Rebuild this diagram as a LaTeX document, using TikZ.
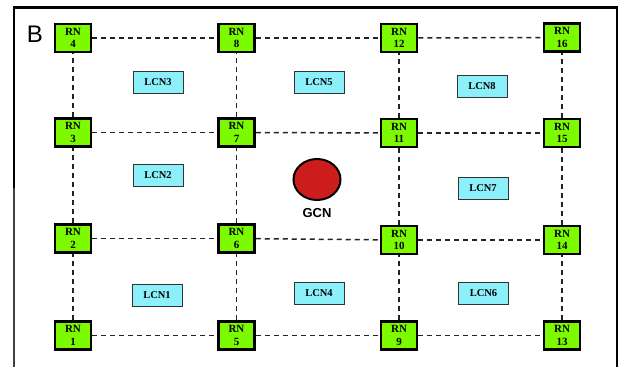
\documentclass[tikz,border=0pt]{standalone}
\usepackage{fontspec}
\setmainfont{Liberation Serif}
\newfontfamily\labsans{Liberation Sans}
\usetikzlibrary{shapes.geometric}
\definecolor{rngreen}{RGB}{124,250,0}
\definecolor{lcncyan}{RGB}{140,240,250}
\definecolor{gcnred}{RGB}{205,28,28}
\definecolor{dashgray}{RGB}{35,35,35}
\tikzset{
  rnbox/.style={draw=black, line width=2.5pt, fill=rngreen, minimum width=36pt, minimum height=28pt,
    inner sep=0pt, align=center, font=\fontsize{11}{12.5}\selectfont\bfseries},
  lcnbox/.style={draw=black!80, line width=1pt, fill=lcncyan, minimum width=50pt, minimum height=22pt,
    inner sep=0pt, font=\fontsize{10.5}{12}\selectfont\bfseries},
  gcnnode/.style={ellipse, draw=black, line width=2pt, fill=gcnred, minimum width=47pt, minimum height=41pt, inner sep=0pt},
  link/.style={dashgray, line width=1.5pt, dash pattern=on 5pt off 4pt},
  frame/.style={black, line width=2.5pt}
}
\begin{document}
\begin{tikzpicture}[x=1pt,y=-1pt]
\useasboundingbox (0,0) rectangle (622,367);
% frame
\coordinate (fa) at (14,367);
\coordinate (fb) at (14,188);
\coordinate (fc) at (14,7.5);
\coordinate (fd) at (617,7.5);
\coordinate (fe) at (617,367);
\draw[frame, line cap=rect] (fb) -- (fc) -- (fd) -- (fe);
\draw[black!75, line width=2.2pt] (fa) -- (fb);
\node[font=\labsans\fontsize{24}{24}\selectfont] (B) at (35,34) {B};
% RN nodes
\node[rnbox] (rn1) at (73,335.5) {RN\\1};
\node[rnbox] (rn2) at (73,238.5) {RN\\2};
\node[rnbox] (rn3) at (73,132.5) {RN\\3};
\node[rnbox] (rn4) at (73,38) {RN\\4};
\node[rnbox] (rn5) at (236.5,335.5) {RN\\5};
\node[rnbox] (rn6) at (236.5,238.5) {RN\\6};
\node[rnbox] (rn7) at (236.5,132.5) {RN\\7};
\node[rnbox] (rn8) at (236.5,38) {RN\\8};
\node[rnbox] (rn9) at (399,335.5) {RN\\9};
\node[rnbox] (rn10) at (399,240) {RN\\10};
\node[rnbox] (rn11) at (399,133) {RN\\11};
\node[rnbox] (rn12) at (399,38) {RN\\12};
\node[rnbox] (rn13) at (562,335.5) {RN\\13};
\node[rnbox] (rn14) at (562,240) {RN\\14};
\node[rnbox] (rn15) at (562,133) {RN\\15};
\node[rnbox] (rn16) at (562,37.5) {RN\\16};
% links
\foreach \a/\b in {rn1/rn2,rn2/rn3,rn3/rn4,rn5/rn6,rn6/rn7,rn7/rn8,rn9/rn10,rn10/rn11,rn11/rn12,rn13/rn14,rn14/rn15,rn15/rn16,
  rn1/rn5,rn5/rn9,rn9/rn13,rn2/rn6,rn6/rn10,rn10/rn14,rn3/rn7,rn7/rn11,rn11/rn15,rn4/rn8,rn8/rn12,rn12/rn16}
  \draw[link] (\a) -- (\b);
% LCN nodes
\node[lcnbox] (lcn1) at (157,295.5) {LCN1};
\node[lcnbox] (lcn2) at (158,175.5) {LCN2};
\node[lcnbox] (lcn3) at (158,82) {LCN3};
\node[lcnbox] (lcn4) at (319,293.5) {LCN4};
\node[lcnbox] (lcn5) at (319,82.5) {LCN5};
\node[lcnbox] (lcn6) at (483.5,293) {LCN6};
\node[lcnbox] (lcn7) at (483,188.5) {LCN7};
\node[lcnbox] (lcn8) at (482,86) {LCN8};
% GCN
\node[gcnnode] (gcn) at (317,179.5) {};
\node[font=\labsans\fontsize{13}{13}\selectfont\bfseries] (gcnlabel) at (317,213) {GCN};
\end{tikzpicture}
\end{document}
